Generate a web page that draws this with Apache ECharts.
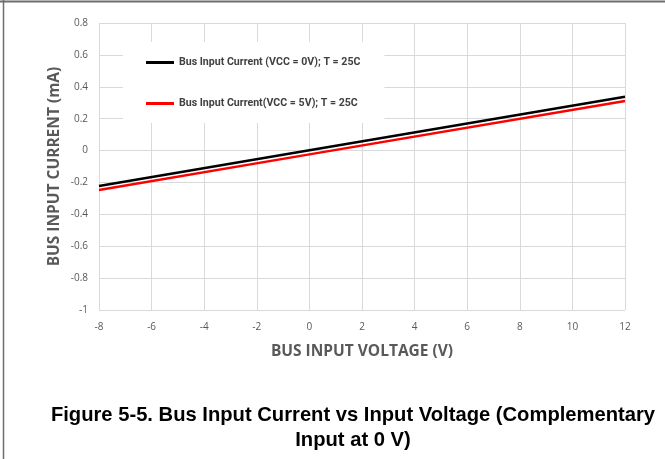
<!DOCTYPE html>
<html>
<head>
<meta charset="utf-8">
<script src="https://cdn.jsdelivr.net/npm/echarts@6/dist/echarts.min.js"></script>
<style>
  html, body { margin: 0; padding: 0; background: #fff; }
  #chart { width: 665px; height: 459px; }
</style>
</head>
<body>
<div id="chart"></div>
<script>
// values
const xTicks = { min: -8, max: 12, step: 2 };
const yTicks = { min: -1, max: 0.8, step: 0.2 };
const voltage = [-8, 0, 12];
const currentVcc0 = [-0.222, 0.002, 0.338];
const currentVcc5 = [-0.247, -0.024, 0.311];
const seriesNames = [
  'Bus Input Current (VCC = 0V); T = 25C',
  'Bus Input Current(VCC = 5V); T = 25C'
];
const captionLines = [
  'Figure 5-5. Bus Input Current vs Input Voltage (Complementary',
  'Input at 0 V)'
];

const pairs = (xs, ys) => xs.map((x, i) => [x, ys[i]]);
const labelFont = '"Open Sans", "Liberation Sans", sans-serif';
const gridColor = '#d9d9d9';
const textGray = '#595959';

const chart = echarts.init(document.getElementById('chart'));
chart.setOption({
  animation: false,
  grid: { left: 99, right: 40, top: 23, bottom: 149 },
  legend: {
    orient: 'vertical',
    left: 123,
    top: 42,
    padding: [15, 24, 14, 23],
    backgroundColor: '#fff',
    itemGap: 30,
    itemWidth: 28,
    itemHeight: 3,
    icon: 'rect',
    data: seriesNames,
    textStyle: {
      fontFamily: 'Roboto, sans-serif',
      fontSize: 10.6,
      fontWeight: 'bold',
      color: '#404040'
    }
  },
  xAxis: {
    type: 'value',
    min: xTicks.min,
    max: xTicks.max,
    interval: xTicks.step,
    name: 'BUS INPUT VOLTAGE (V)',
    nameLocation: 'middle',
    nameGap: 34,
    nameTextStyle: { fontFamily: labelFont, fontSize: 15.5, fontWeight: 'bold', color: textGray },
    axisLine: { show: true, lineStyle: { color: gridColor } },
    axisTick: { show: false },
    axisLabel: { margin: 12, fontFamily: labelFont, fontSize: 10, color: textGray },
    splitLine: { show: true, lineStyle: { color: gridColor } }
  },
  yAxis: {
    type: 'value',
    min: yTicks.min,
    max: yTicks.max,
    interval: yTicks.step,
    name: 'BUS INPUT CURRENT (mA)',
    nameLocation: 'middle',
    nameGap: 36,
    nameMoveOverlap: false,
    nameTextStyle: { fontFamily: labelFont, fontSize: 15.5, fontWeight: 'bold', color: textGray },
    axisLine: { show: true, lineStyle: { color: gridColor } },
    axisTick: { show: false },
    axisLabel: {
      margin: 11,
      fontFamily: labelFont,
      fontSize: 10,
      color: textGray,
      formatter: v => String(Math.round(v * 10) / 10)
    },
    splitLine: { show: true, lineStyle: { color: gridColor } }
  },
  series: [
    {
      name: seriesNames[0],
      type: 'line',
      data: pairs(voltage, currentVcc0),
      showSymbol: false,
      color: '#000000',
      lineStyle: { width: 2.5, color: '#000000' },
      z: 3
    },
    {
      name: seriesNames[1],
      type: 'line',
      data: pairs(voltage, currentVcc5),
      showSymbol: false,
      color: '#ff0000',
      lineStyle: { width: 2.5, color: '#ff0000' },
      z: 2
    }
  ],
  graphic: [
    { type: 'line', shape: { x1: 0, y1: 1.5, x2: 665, y2: 1.5 }, style: { stroke: '#6e6e6e', lineWidth: 2 } },
    { type: 'line', shape: { x1: 3.5, y1: 0, x2: 3.5, y2: 459 }, style: { stroke: '#6e6e6e', lineWidth: 1.5 } },
    ...captionLines.map((line, i) => ({
      type: 'text',
      x: 353,
      y: 415 + i * 25,
      style: {
        text: line,
        align: 'center',
        verticalAlign: 'middle',
        fontFamily: '"Liberation Sans", Arial, sans-serif',
        fontWeight: 'bold',
        fontSize: 20.2,
        fill: '#000'
      }
    }))
  ]
});
</script>
</body>
</html>
